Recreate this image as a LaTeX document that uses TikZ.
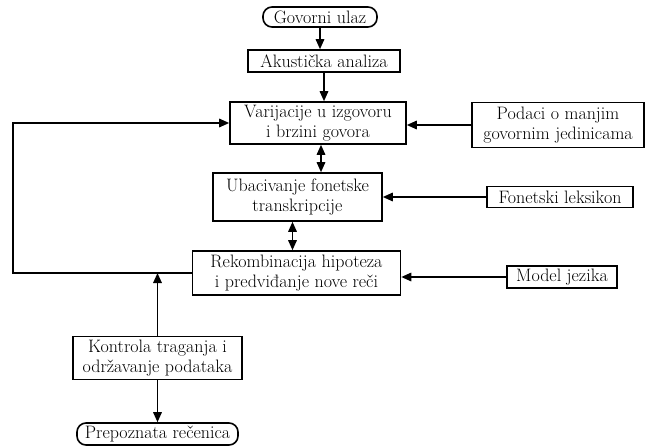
\documentclass[tikz,border=0pt]{standalone}
\usepackage{tikz}
\usetikzlibrary{arrows.meta}

\tikzset{
  box/.style = {draw, line width = 1.6pt, align = center, inner sep = 0pt,
                font = \fontsize{18}{20}\selectfont},
  term/.style = {box, rounded corners = 9pt},
  arr/.style = {line width = 1.6pt, -{Triangle[length = 10pt, width = 8.5pt]}},
  dbl/.style = {line width = 1.6pt, {Triangle[length = 10pt, width = 8.5pt]}-{Triangle[length = 10pt, width = 8.5pt]}}
}

\begin{document}
\begin{tikzpicture} [x = 1pt, y = -1pt]
\useasboundingbox (0, 0) rectangle (655, 447);
\node[term, minimum width = 114pt, minimum height = 20pt] (govor) at (320, 17){Govorni ulaz};
\node[box, minimum width = 152pt, minimum height = 22pt] (akust) at (324, 61){Akusti\v{c}ka analiza};
\node[box, minimum width = 176pt, minimum height = 42pt] (varij) at (318, 123){Varijacije u izgovoru\\i brzini govora};
\node[box, minimum width = 172pt, minimum height = 45pt] (podaci) at (558, 125){Podaci o manjim\\govornim jedinicama};
\node[box, minimum width = 169pt, minimum height = 48pt] (ubac) at (297.5, 197){Ubacivanje fonetske\\transkripcije};
\node[box, minimum width = 146pt, minimum height = 21pt] (fonet) at (560, 197){Fonetski leksikon};
\node[box, minimum width = 208pt, minimum height = 44pt] (rekomb) at (296.5, 273){Rekombinacija hipoteza\\i predvi\dj anje nove re\v{c}i};
\node[box, minimum width = 110pt, minimum height = 22pt] (model) at (562, 277){Model jezika};
\node[box, minimum width = 169pt, minimum height = 43pt] (kontrola) at (157.5, 358){Kontrola traganja i\\odr\v{z}avanje podataka};
\node[term, minimum width = 161pt, minimum height = 22pt] (prepoz) at (157.5, 434){Prepoznata re\v{c}enica};
\coordinate (petlja) at (13, 273);
\draw[arr] (govor) -- (govor |- akust.north);
\draw[arr] (akust) -- (akust |- varij.north);
\draw[arr] (podaci.west) -- (podaci.west -| varij.east);
\draw[dbl] ([xshift = 3pt]varij.south) -- ([xshift = 3pt]varij.south |- ubac.north);
\draw[arr] (fonet.west) -- (fonet.west -| ubac.east);
\draw[dbl] ([xshift = -5pt]ubac.south) -- ([xshift = -5pt]ubac.south |- rekomb.north);
\draw[arr] (model.west) -- (model.west -| rekomb.east);
\draw[arr] (rekomb.west) -- (petlja) |- (varij.west);
\draw[arr] (kontrola.north) -- (kontrola.north |- rekomb.west);
\draw[arr] (kontrola.south) -- (prepoz.north);
\end{tikzpicture}
\end{document}
